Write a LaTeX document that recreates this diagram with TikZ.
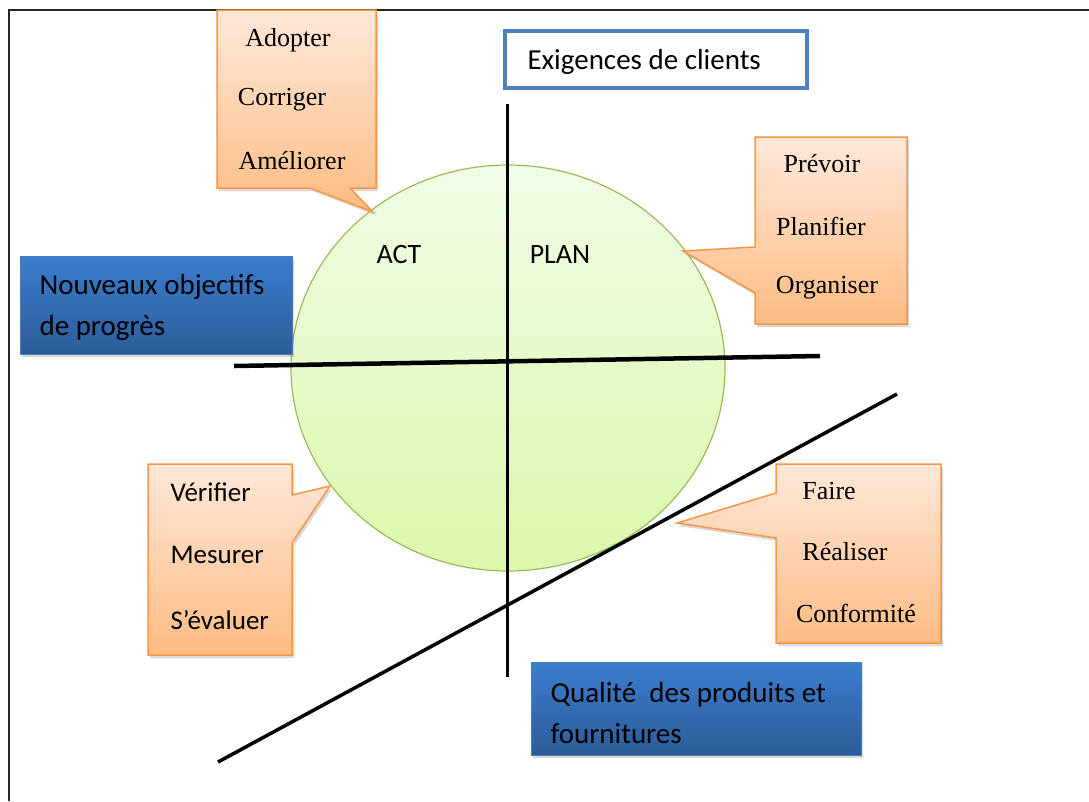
\documentclass[tikz,border=0pt]{standalone}
\usepackage{fontspec}
\setmainfont{Liberation Serif}
\newfontfamily\calibri{Carlito}
\usetikzlibrary{shadows}

\definecolor{calloutedge}{HTML}{F79646}
\definecolor{callouttop}{HTML}{FFE8D9}
\definecolor{calloutbot}{HTML}{FDBC84}
\definecolor{bluetop}{HTML}{3B7DCF}
\definecolor{bluebot}{HTML}{2C5C98}
\definecolor{blueedge}{HTML}{4A7EBB}
\definecolor{frameblue}{HTML}{4F81BD}
\definecolor{circleedge}{HTML}{9BBB59}
\definecolor{circletop}{HTML}{F1FCE6}
\definecolor{circlebot}{HTML}{DBF8AC}

\tikzset{
  callout/.style={draw=calloutedge, line width=1.5pt, top color=callouttop, bottom color=calloutbot,
    drop shadow={shadow xshift=2pt, shadow yshift=-3pt, opacity=0.3}},
  bluebox/.style={draw=blueedge, line width=1pt, top color=bluetop, bottom color=bluebot,
    drop shadow={shadow xshift=2pt, shadow yshift=-3pt, opacity=0.3}},
  seritem/.style={font=\fontsize{26}{30}\selectfont},
  sansitem/.style={font=\calibri\fontsize{27}{32}\selectfont},
  boxtext/.style={font=\calibri\fontsize{29}{41}\selectfont, align=left, anchor=west},
  axis/.style={line width=3.5pt, line cap=butt}
}

\begin{document}
\begin{tikzpicture}[x=1pt,y=-1pt]
    \useasboundingbox (0,0) rectangle (1089,801);
    % frame
    \draw[line width=1.5pt, black!85] (9,801) -- (9,10) -- (1089,10);
    % circle
    \draw[draw=circleedge, line width=1.2pt, top color=circletop, bottom color=circlebot] (508,368) ellipse [x radius=217, y radius=203];
    % axes
    \coordinate (vtop) at (507,104);
    \coordinate (vbot) at (507,677);
    \coordinate (hleft) at (234,366);
    \coordinate (hright) at (820,356);
    \coordinate (dlow) at (218,762);
    \coordinate (dhigh) at (897,394);
    \draw[axis, line width=3pt] (vtop) -- (vbot);
    \draw[axis, line width=4.5pt] (hleft) -- (hright);
    \draw[axis] (dlow) -- (dhigh);
    \node[font=\calibri\fontsize{28}{32}\selectfont] (act) at (399,255) {ACT};
    \node[font=\calibri\fontsize{28}{32}\selectfont] (plan) at (560,255) {PLAN};
    % customer box
    \draw[draw=frameblue, line width=4pt, fill=white] (505,31) rectangle (807,88);
    \node[font=\calibri\fontsize{29}{35}\selectfont, anchor=west] (clients) at (524,62) {Exigences de clients};
    % act callout
    \path[callout] (217,10) -- (376,10) -- (376,188) -- (350,188) -- (373,212) -- (310,188) -- (217,188) -- cycle;
    \node[seritem] (adopter) at (288,40) {Adopter};
    \node[seritem] (corriger) at (282,100) {Corriger};
    \node[seritem] (ameliorer) at (292,161) {Améliorer};
    % plan callout
    \path[callout] (755,137) -- (907,137) -- (907,324) -- (755,324) -- (755,293) -- (683,251) -- (755,247) -- cycle;
    \node[seritem] (prevoir) at (822,164) {Prévoir};
    \node[seritem] (planifier) at (821,226) {Planifier};
    \node[seritem] (organiser) at (827,288) {Organiser};
    % check callout
    \path[callout] (148,464) -- (292,464) -- (292,495) -- (330,486) -- (292,543) -- (292,655) -- (148,655) -- cycle;
    \node[sansitem, anchor=west] (verifier) at (167,492) {Vérifier};
    \node[sansitem, anchor=west] (mesurer) at (167,555) {Mesurer};
    \node[sansitem, anchor=west] (evaluer) at (167,620) {S’évaluer};
    % do callout
    \path[callout] (776,464) -- (941,464) -- (941,643) -- (776,643) -- (776,538) -- (677,523) -- (776,493) -- cycle;
    \node[seritem] (faire) at (829,491) {Faire};
    \node[seritem] (realiser) at (845,552) {Réaliser};
    \node[seritem] (conformite) at (856,613) {Conformité};
    % blue boxes
    \path[bluebox] (20,256) rectangle (292,354);
    \node[boxtext] (objectifs) at (36,307) {Nouveaux objectifs\\de progrès};
    \path[bluebox] (531,662) rectangle (861,755);
    \node[boxtext] (qualite) at (547,713) {Qualité\ \ des produits et\\fournitures};
\end{tikzpicture}
\end{document}
